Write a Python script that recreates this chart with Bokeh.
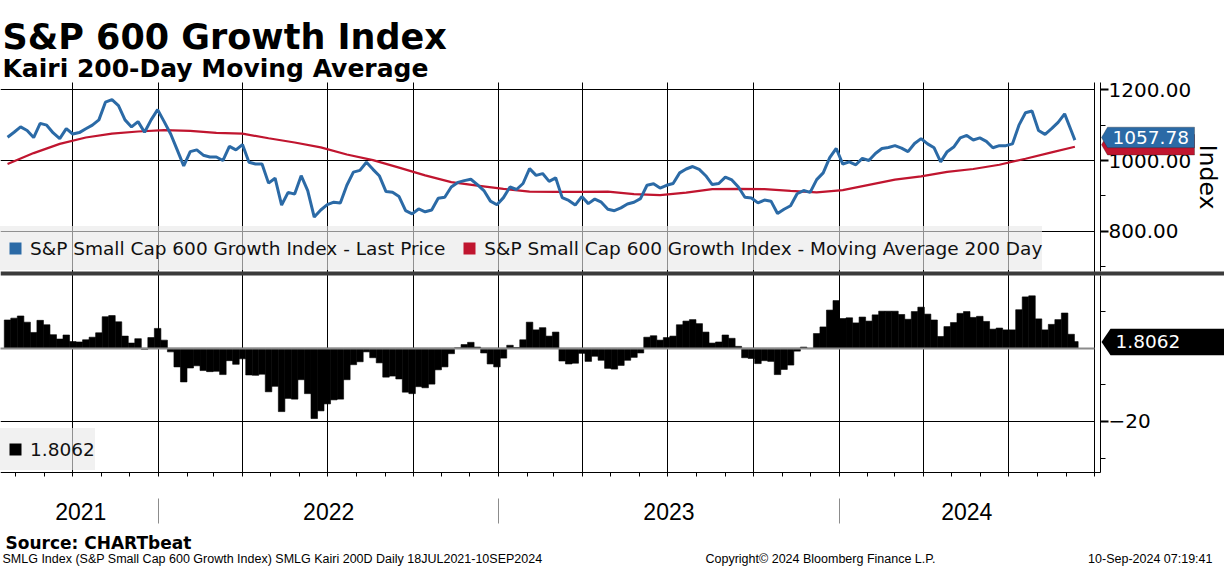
import pandas as pd
from bokeh.plotting import figure
from bokeh.models import (ColumnDataSource, Range1d, LinearAxis, DatetimeAxis, FixedTicker,
                          MonthsTicker, PrintfTickFormatter, CustomJSTickFormatter, Legend,
                          LegendItem, Label, Grid, BoxAnnotation, PolyAnnotation)
from bokeh.embed import file_html
from bokeh.resources import INLINE

# ---------------------------------------------------------------- data
WEEK_START = "2021-07-23"      # first weekly (Friday) reading
LAST_DATE = "2024-09-10"       # last print

# S&P Small Cap 600 Growth Index - weekly readings
price_weekly = [
    1066, 1080, 1095, 1085, 1065, 1105, 1100, 1078, 1062, 1090,
    1075, 1079, 1090, 1100, 1115, 1165, 1172, 1155, 1115, 1095,
    1110, 1080, 1115, 1144, 1110, 1075, 1030, 985, 1025, 1030,
    1015, 1010, 1010, 1000, 1040, 1030, 1045, 995, 990, 990,
    936, 950, 874, 910, 905, 957, 915, 840, 860, 875,
    882, 880, 930, 967, 972, 995, 975, 956, 912, 910,
    898, 858, 849, 863, 855, 860, 893, 896, 925, 938,
    943, 947, 932, 915, 885, 875, 895, 925, 918, 935,
    977, 958, 963, 941, 951, 895, 887, 874, 898, 878,
    891, 882, 862, 858, 866, 877, 882, 892, 930, 934,
    922, 930, 935, 965, 976, 983, 975, 957, 932, 935,
    953, 945, 925, 896, 894, 880, 888, 885, 850, 862,
    872, 906, 915, 910, 946, 965, 1008, 1034, 990, 996,
    988, 1006, 1000, 1020, 1034, 1037, 1042, 1035, 1025, 1048,
    1062, 1047, 1036, 996, 1025, 1038, 1064, 1071, 1058, 1064,
    1054, 1036, 1042, 1042, 1047, 1100, 1135, 1140, 1085, 1074,
    1090, 1108, 1132, 1085,
]
price_last = 1057.78

# 200-day moving average - readings every 4 weeks
ma_4weekly = [
    990, 1021, 1047, 1065, 1076, 1082, 1086, 1084, 1078, 1076,
    1063, 1051, 1037, 1017, 1001, 980, 958, 939, 929, 920,
    912, 911, 911, 912, 905, 902, 909, 919, 920, 919,
    914, 910, 916, 931, 946, 955, 968, 976, 988, 1005,
    1023,
]
ma_last = 1039.0

# Kairi 200D (% distance of price from its 200-day MA) - weekly readings
kairi_weekly = [
    7.7, 8.2, 8.8, 7.1, 4.3, 7.6, 6.4, 3.7, 2.5, 3.6,
    1.8, 1.7, 2.3, 3.0, 4.2, 8.6, 8.9, 7.2, 3.3, 1.4,
    2.6, -0.3, 2.9, 5.4, 2.2, -1.0, -5.1, -9.2, -5.4, -4.8,
    -6.1, -6.4, -6.3, -7.2, -3.4, -4.4, -2.9, -7.3, -7.4, -7.1,
    -11.9, -10.4, -17.3, -13.7, -13.9, -8.6, -12.4, -19.2, -17.1, -15.2,
    -14.1, -13.9, -8.6, -4.5, -3.7, -1.0, -2.6, -4.0, -7.9, -7.6,
    -8.4, -12.0, -12.4, -10.5, -10.8, -9.8, -5.9, -5.1, -1.5, 0.1,
    1.0, 1.6, 0.3, -1.3, -4.3, -5.1, -2.7, 0.8, 0.2, 2.3,
    7.1, 5.0, 5.6, 3.3, 4.4, -3.5, -4.3, -4.1, -1.4, -3.6,
    -2.2, -3.3, -5.5, -5.7, -4.7, -3.3, -2.5, -1.3, 3.0, 3.4,
    2.2, 2.9, 3.3, 6.4, 7.4, 7.8, 6.7, 4.4, 1.4, 1.7,
    3.6, 2.7, 0.5, -2.6, -2.8, -4.2, -3.4, -3.6, -7.2, -5.8,
    -4.6, -0.8, 0.3, -0.1, 4.0, 5.8, 10.4, 13.0, 8.1, 8.3,
    6.9, 8.5, 7.4, 9.1, 10.1, 10.1, 10.1, 9.2, 7.9, 10.0,
    11.2, 9.3, 7.7, 3.2, 5.9, 7.0, 9.5, 10.0, 8.4, 8.7,
    7.3, 5.2, 5.5, 5.0, 5.0, 10.5, 14.0, 14.3, 8.0, 5.0,
    6.5, 7.8, 9.6, 3.8,
]
kairi_last = 1.8062

price_label = "S&P Small Cap 600 Growth Index - Last Price"
ma_label = "S&P Small Cap 600 Growth Index - Moving Average 200 Day"
title_text = "S&P 600 Growth Index"
subtitle_text = "Kairi 200-Day Moving Average"
source_text = "Source: CHARTbeat"
footer_left = "SMLG Index (S&P Small Cap 600 Growth Index) SMLG Kairi 200D  Daily 18JUL2021-10SEP2024"
footer_mid = "Copyright\u00a9 2024 Bloomberg Finance L.P."
footer_right = "10-Sep-2024 07:19:41"

period_start = "2021-07-18"
period_end = "2024-10-01"
year_starts = ["2022-01-01", "2023-01-01", "2024-01-01"]
year_labels = ["2021", "2022", "2023", "2024"]

price_ticks = [800, 1000, 1200]
price_minor = [700, 900, 1100]
kairi_ticks = [-20]
kairi_minor = [-30, -10, 10]

# ---------------------------------------------------------------- layout geometry (page px)
W_PX, H_PX = 1224, 566
X_START, X_END = "2021-07-15 10:30", "2025-02-17 12:00"   # dates at the page's left/right edges
AXIS_AT = "2024-10-07 10:30"                              # date where the value axes sit
TOP_PANEL = (82, 271)
BOT_PANEL = (275, 472)
PRICE_VIEW = (686.0, 1220.7)
KAIRI_VIEW = (-33.92, 19.84)

def page_to(view, panel):
    (lo, hi), (top, bot) = view, panel
    k = (hi - lo) / (bot - top)
    return (lambda py: hi - (py - top) * k), k

price_at, price_per_px = page_to(PRICE_VIEW, TOP_PANEL)
kairi_at, kairi_per_px = page_to(KAIRI_VIEW, BOT_PANEL)

def price_page(v):
    return TOP_PANEL[0] + (PRICE_VIEW[1] - v) / price_per_px

def kairi_page(v):
    return BOT_PANEL[0] + (KAIRI_VIEW[1] - v) / kairi_per_px

def ms(d):
    return pd.Timestamp(d).value / 1e6

def sy(py):
    return H_PX - py

# ---------------------------------------------------------------- sources
wk_dates = list(pd.date_range(WEEK_START, periods=len(price_weekly), freq="7D")) + [pd.Timestamp(LAST_DATE)]
ma_dates = list(pd.date_range(WEEK_START, periods=len(ma_4weekly), freq="28D")) + [pd.Timestamp(LAST_DATE)]
src_price = ColumnDataSource(dict(date=wk_dates, price=price_weekly + [price_last]))
src_ma = ColumnDataSource(dict(date=ma_dates, ma=ma_4weekly + [ma_last]))
src_kairi = ColumnDataSource(dict(date=wk_dates, kairi=kairi_weekly + [kairi_last]))

edges = [pd.Timestamp(period_start)] + [pd.Timestamp(d) for d in year_starts] + [pd.Timestamp(period_end)]
year_mid = [edges[i] + (edges[i + 1] - edges[i]) / 2 for i in range(len(year_labels))]

# ---------------------------------------------------------------- style
BLUE = "#2b6aa6"
RED = "#c0152f"
FONT = "DejaVu Sans"
FOOT_FONT = "Liberation Sans"

p = figure(width=W_PX, height=H_PX,
           x_range=Range1d(pd.Timestamp(X_START), pd.Timestamp(X_END)),
           y_range=Range1d(price_at(H_PX), price_at(0)),
           x_axis_type="datetime", x_axis_location=None, y_axis_location=None,
           toolbar_location=None, output_backend="svg", min_border=0,
           outline_line_color=None, border_fill_color="white", background_fill_color="white")
p.extra_y_ranges = {"kairi": Range1d(kairi_at(H_PX), kairi_at(0))}
for g in p.grid:
    g.visible = False

x0, x_end_data = ms(X_START), ms(period_end)
top_y, bot_y = price_at(TOP_PANEL[0]), price_at(BOT_PANEL[1])

# grids
p.add_layout(Grid(dimension=0, ticker=MonthsTicker(months=[0, 3, 6, 9]),
                  bounds=(x0, x_end_data + 3.6e6), cross_bounds=(bot_y, top_y),
                  grid_line_color="black", grid_line_width=1))
p.add_layout(Grid(dimension=1, ticker=FixedTicker(ticks=price_ticks), cross_bounds=(x0, x_end_data),
                  grid_line_color="black", grid_line_width=1))
p.add_layout(Grid(dimension=1, y_range_name="kairi", ticker=FixedTicker(ticks=kairi_ticks),
                  cross_bounds=(x0, x_end_data), grid_line_color="black", grid_line_width=1))
p.add_layout(Grid(dimension=0, ticker=FixedTicker(ticks=[ms(d) for d in year_starts]),
                  cross_bounds=(price_at(523), price_at(498)),
                  grid_line_color="#8c8c8c", grid_line_width=1))

# price panel
p.line(x="date", y="ma", source=src_ma, line_color=RED, line_width=2.2)
p.line(x="date", y="price", source=src_price, line_color=BLUE, line_width=3)
sq_price = p.scatter(x="date", y="price", source=src_price, marker="square", size=0,
                     fill_color=BLUE, line_color=None)
sq_ma = p.scatter(x="date", y="ma", source=src_ma, marker="square", size=0,
                  fill_color=RED, line_color=None)

# kairi panel
bar_w = 7 * 24 * 3600 * 1000
p.vbar(x="date", top="kairi", bottom=0, width=bar_w, source=src_kairi, y_range_name="kairi",
       fill_color="black", line_color="black", line_width=0.6)
sq_k = p.scatter(x="date", y="kairi", source=src_kairi, marker="square", size=0,
                 y_range_name="kairi", fill_color="black", line_color=None)
p.add_layout(Grid(dimension=1, y_range_name="kairi", ticker=FixedTicker(ticks=[0]),
                  cross_bounds=(x0, x_end_data), grid_line_color="#8c8c8c", grid_line_width=2,
                  level="annotation"))

# separator between panels
p.add_layout(BoxAnnotation(top=price_at(TOP_PANEL[1]), bottom=price_at(BOT_PANEL[0]),
                           fill_color="#3b3b3b", fill_alpha=1, line_color=None))

# value axes (right side)
def style_axis(ax):
    ax.major_label_text_font = FONT
    ax.major_label_text_font_size = "20px"
    ax.major_label_text_color = "black"
    ax.major_label_standoff = 0
    ax.major_tick_out = 8
    ax.major_tick_in = 0
    ax.major_tick_line_width = 2
    ax.major_tick_line_color = "black"
    ax.minor_tick_out = 5
    ax.minor_tick_in = 0
    ax.minor_tick_line_color = "black"
    ax.axis_line_color = "black"

ya = LinearAxis(fixed_location=ms(AXIS_AT), bounds=(price_at(TOP_PANEL[1]), top_y),
                ticker=FixedTicker(ticks=price_ticks, minor_ticks=price_minor),
                formatter=PrintfTickFormatter(format="%.2f"))
style_axis(ya)
p.add_layout(ya, "right")
yb = LinearAxis(y_range_name="kairi", fixed_location=ms(AXIS_AT),
                bounds=(kairi_at(BOT_PANEL[1]), kairi_at(BOT_PANEL[0])),
                ticker=FixedTicker(ticks=kairi_ticks, minor_ticks=kairi_minor))
style_axis(yb)
p.add_layout(yb, "right")

# time axis (monthly ticks)
xa = DatetimeAxis(fixed_location=bot_y, bounds=(x0, ms(AXIS_AT)),
                  ticker=MonthsTicker(months=list(range(12))),
                  formatter=CustomJSTickFormatter(code="return ''"))
xa.major_label_text_font_size = "0px"
xa.major_label_standoff = 0
xa.major_tick_out = 4
xa.major_tick_in = 0
xa.major_tick_line_color = "black"
xa.minor_tick_line_color = None
xa.axis_line_color = "black"
p.add_layout(xa, "below")

# legends
leg_a = Legend(items=[LegendItem(label=price_label, renderers=[sq_price]),
                      LegendItem(label=ma_label, renderers=[sq_ma])],
               location=(0, sy(270)), orientation="horizontal", margin=0, padding=2,
               spacing=9, glyph_width=30, glyph_height=44, label_height=44, label_standoff=-2,
               label_text_font=FONT, label_text_font_size="18.5px", label_text_color="#111111",
               background_fill_color="#e9e9e9", background_fill_alpha=0.62, border_line_color=None)
p.add_layout(leg_a)
leg_b = Legend(items=[LegendItem(label=f"{kairi_last:.4f}", renderers=[sq_k])],
               location=(0, sy(470)), orientation="horizontal", margin=0, padding=2,
               glyph_width=30, glyph_height=42, label_height=42, label_standoff=-2,
               label_text_font=FONT, label_text_font_size="18.5px", label_text_color="#111111",
               background_fill_color="#e9e9e9", background_fill_alpha=0.62, border_line_color=None)
p.add_layout(leg_b)

# value tags on the axis (centre given in page px, converted to the frame's price scale)
def tag(center_py, half_px, color, box_left, right, label=None, outline="#1c1c1c"):
    c = price_at(center_py)
    h = half_px * price_per_px
    p.add_layout(PolyAnnotation(xs=[1101, box_left, right, right, box_left],
                                ys=[c, c + h, c + h, c - h, c - h],
                                xs_units="screen", ys_units="data",
                                fill_color=color, fill_alpha=1,
                                line_color=outline, line_width=1))
    if label:
        p.add_layout(Label(x=box_left + 5, y=c, x_units="screen", text=label,
                           text_font=FONT, text_font_size="18.5px", text_color="white",
                           text_align="left", text_baseline="middle"))

tag(price_page(ma_last) - 2, 10.3, RED, 1107, 1194)
tag(price_page(price_last) - 2.6, 10.3, BLUE, 1107, 1194, f"{price_last:.2f}")
tag(kairi_page(kairi_last) + 0.4, 13.3, "black", 1110, W_PX + 2, f"{kairi_last:.4f}", outline=None)

# texts
def text(x, py, s, size, bold=False, align="left", font=FONT, angle=0, baseline="alphabetic"):
    p.add_layout(Label(x=x, y=sy(py), x_units="screen", y_units="screen", text=s,
                       text_font=font, text_font_style="bold" if bold else "normal",
                       text_font_size=size, text_align=align, text_baseline=baseline,
                       angle=angle, angle_units="deg", text_color="black"))

text(2, 36.7, title_text, "35px", bold=True)
text(2, 68.3, subtitle_text, "25px", bold=True)
text(1207, (TOP_PANEL[0] + TOP_PANEL[1]) / 2, "Index", "23.5px", align="center",
     angle=-90, baseline="middle")
text(5, 542.3, source_text, "17px", bold=True)
text(2, 558.5, footer_left, "12.5px", font=FOOT_FONT)
text(705, 558.5, footer_mid, "12.5px", font=FOOT_FONT)
text(1212, 558.5, footer_right, "12.5px", font=FOOT_FONT, align="right")

for xm, lab in zip(year_mid, year_labels):
    p.add_layout(Label(x=ms(xm), y=sy(511), y_units="screen", text=lab,
                       text_font=FOOT_FONT, text_font_size="23px", text_color="black",
                       text_align="center", text_baseline="middle"))

open("out.html", "w").write(file_html(p, INLINE))
